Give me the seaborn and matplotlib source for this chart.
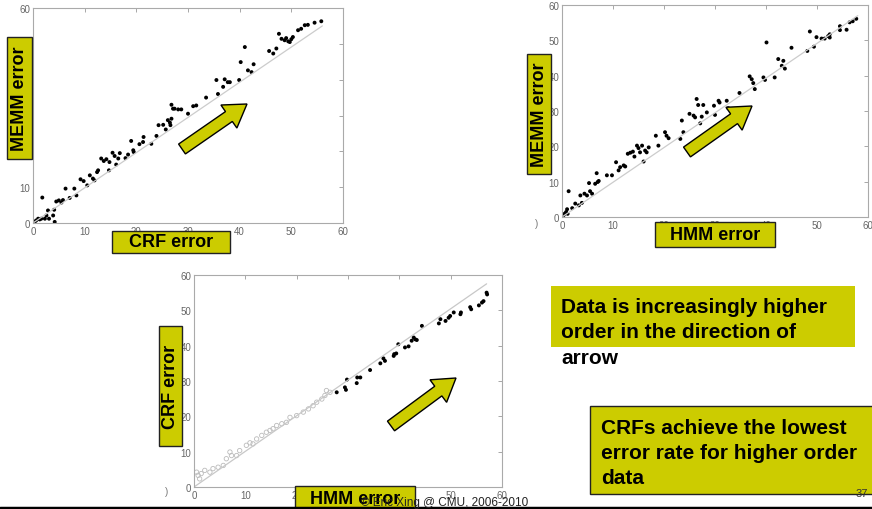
import matplotlib
matplotlib.use("Agg")
import matplotlib.pyplot as plt
import seaborn as sns
import pandas as pd
from matplotlib.patches import Rectangle, FancyArrow

# plot 1: CRF error vs MEMM error
crf_a = [0.3, 0.6, 1.0, 1.3, 1.6, 1.8, 2.3, 2.6, 2.9, 3.1, 3.9, 4.1, 4.2, 4.5, 5.0, 5.5, 5.8,
         6.3, 7.1, 8.0, 8.4, 9.2, 9.8, 10.5, 11.0, 11.6, 11.9, 12.4, 12.6, 13.2, 13.7, 14.2,
         14.8, 14.7, 15.4, 15.8, 16.1, 16.5, 16.8, 17.9, 18.4, 19.0, 19.4, 19.5, 20.6, 21.3,
         21.4, 22.9, 23.9, 24.3, 25.2, 25.7, 26.1, 26.5, 26.6, 26.8, 26.8, 27.1, 27.4, 28.1,
         28.7, 30.0, 31.0, 31.6, 33.5, 35.5, 35.8, 36.8, 37.1, 37.7, 38.1, 39.9, 40.2, 41.0,
         41.6, 42.3, 42.7, 45.7, 46.5, 47.1, 47.6, 48.1, 48.7, 49.0, 49.4, 49.7, 50.0, 50.3,
         51.3, 51.9, 52.6, 53.2, 54.5, 55.8]
memm_a = [0.3, 0.7, 1.2, 1.0, 1.2, 7.1, 1.2, 2.1, 3.5, 1.2, 2.1, 3.7, 0.3, 6.0, 6.3, 5.7, 6.4,
          9.6, 7.0, 9.6, 7.7, 12.2, 11.7, 10.5, 13.3, 12.4, 11.9, 14.2, 14.7, 18.0, 17.3, 17.8,
          17.0, 14.7, 19.6, 18.7, 16.3, 18.0, 19.5, 18.1, 19.1, 22.9, 20.3, 19.8, 22.0, 22.6,
          24.0, 22.1, 24.3, 27.3, 27.4, 26.1, 28.7, 28.0, 27.3, 29.1, 33.0, 31.9, 31.9, 31.7,
          31.7, 30.5, 32.6, 32.8, 35.0, 39.9, 36.0, 38.0, 40.1, 39.3, 39.3, 39.9, 44.9, 49.1,
          42.6, 42.1, 44.3, 48.0, 47.3, 48.7, 52.8, 51.4, 51.0, 51.6, 50.7, 50.5, 51.3, 51.9,
          53.8, 54.2, 55.2, 55.3, 55.9, 56.3]
diag_a_x = [0, 56]
diag_a_y = [0, 55]

# plot 2: HMM error vs MEMM error
hmm_b = [0.3, 0.5, 0.8, 1.0, 1.1, 1.3, 2.0, 2.6, 3.3, 3.6, 3.9, 4.4, 4.9, 5.5, 5.9, 5.3, 6.5,
         7.0, 7.2, 6.8, 8.8, 9.8, 10.6, 11.1, 11.4, 12.1, 12.4, 12.9, 13.4, 13.9, 14.2, 14.7,
         15.0, 15.3, 15.7, 16.0, 16.3, 16.6, 17.0, 18.4, 18.9, 20.2, 20.5, 20.9, 23.2, 23.5,
         23.8, 25.0, 25.8, 26.1, 26.4, 26.7, 27.1, 27.4, 27.7, 28.4, 29.8, 30.0, 30.7, 30.9,
         32.3, 32.6, 34.8, 36.8, 37.2, 37.5, 37.8, 39.5, 39.8, 40.1, 41.7, 42.4, 43.1, 43.4,
         43.7, 45.0, 48.1, 48.6, 49.4, 49.9, 50.9, 51.5, 52.2, 52.5, 52.5, 54.5, 54.5, 55.8,
         56.4, 57.0, 57.7]
memm_b = [0.5, 0.9, 1.4, 2.2, 0.9, 7.3, 2.5, 3.8, 3.3, 6.1, 4.0, 6.6, 6.1, 7.3, 6.6, 9.6, 9.4,
          9.9, 10.2, 12.4, 11.8, 11.8, 15.5, 13.2, 14.1, 14.6, 14.3, 17.9, 18.2, 18.5, 17.1,
          20.2, 19.5, 18.3, 20.2, 15.7, 18.8, 18.3, 19.7, 23.0, 20.2, 24.0, 23.0, 22.3, 22.1,
          27.3, 24.0, 29.2, 28.7, 28.2, 33.4, 31.7, 26.5, 28.4, 31.7, 29.6, 31.5, 28.9, 32.9,
          32.4, 32.9, 30.8, 35.1, 39.8, 39.0, 37.9, 36.2, 39.5, 38.8, 49.4, 39.5, 44.7, 42.8,
          44.2, 42.0, 47.9, 47.0, 52.5, 48.2, 50.9, 50.5, 50.5, 51.2, 51.7, 50.8, 54.0, 52.9,
          53.0, 55.1, 55.4, 56.1]
diag_b_x = [0, 58]
diag_b_y = [0, 57]

# plot 3: HMM error vs CRF error (grey = low order, black = high order)
hmm_c_low = [0.5, 0.8, 1.1, 1.4, 2.1, 3.1, 3.7, 4.7, 5.7, 6.3, 7.0, 7.3, 8.3, 8.9, 10.2, 10.9,
             11.5, 12.2, 13.2, 14.1, 14.8, 15.4, 16.1, 17.1, 18.0, 18.7, 20.0, 21.3, 22.3,
             23.2, 23.9, 24.9, 25.5, 25.8, 26.5]
crf_c_low = [4.2, 3.3, 2.3, 3.8, 4.7, 4.2, 5.2, 5.6, 6.1, 8.0, 9.9, 8.9, 8.9, 10.3, 11.8, 12.5,
             12.2, 13.6, 14.6, 15.5, 16.0, 16.5, 17.4, 17.9, 18.3, 19.7, 20.2, 21.2, 22.1,
             23.0, 24.0, 24.9, 25.9, 27.3, 26.8]
hmm_c_high = [27.8, 29.4, 29.6, 29.8, 31.7, 31.8, 32.4, 34.3, 36.3, 36.9, 37.2, 38.9, 39.0,
              39.4, 39.8, 41.1, 41.8, 42.4, 42.8, 43.1, 43.4, 44.4, 47.7, 48.0, 49.0, 49.6,
              49.9, 50.6, 51.9, 52.0, 53.8, 54.0, 55.5, 56.1, 56.4, 57.0, 57.1]
crf_c_high = [26.8, 28.2, 27.5, 30.4, 29.4, 31.0, 31.0, 33.1, 35.0, 36.4, 35.7, 37.1, 37.6,
              37.8, 40.4, 39.5, 39.8, 41.4, 42.3, 41.8, 41.6, 45.6, 46.3, 47.5, 47.0, 47.9,
              48.4, 49.4, 48.9, 49.4, 50.9, 50.3, 51.4, 52.2, 52.6, 55.0, 54.5]
diag_c_x = [0, 57]
diag_c_y = [0, 57.5]

ticks = [0, 10, 20, 30, 40, 50, 60]
YELLOW = "#cccc00"

sns.set_style("white")
plt.rcParams['font.family'] = ['Liberation Sans', 'DejaVu Sans']

W, H = 872, 510
fig = plt.figure(figsize=(W / 100, H / 100), dpi=100)


def px_axes(left, top, right, bottom):
    return fig.add_axes([left / W, 1 - bottom / H, (right - left) / W, (bottom - top) / H])


def style(ax):
    ax.set_xlim(0, 60)
    ax.set_ylim(0, 60)
    ax.set_xticks(ticks)
    ax.set_yticks(ticks)
    ax.tick_params(direction="in", top=True, right=True, length=3, width=0.6,
                   color="#999999", labelcolor="#666666", labelsize=7, pad=2)
    for s in ax.spines.values():
        s.set_color("#aaaaaa")
        s.set_linewidth(0.8)
    ax.set_xlabel("")
    ax.set_ylabel("")


ax1 = px_axes(33, 9, 343, 224)
sns.lineplot(x=diag_a_x, y=diag_a_y, ax=ax1, color="#cccccc", lw=0.9)
sns.scatterplot(x=crf_a, y=memm_a, ax=ax1, color="black", s=8, edgecolor="none")
style(ax1)

ax2 = px_axes(562, 6, 868, 218)
sns.lineplot(x=diag_b_x, y=diag_b_y, ax=ax2, color="#cccccc", lw=0.9)
sns.scatterplot(x=hmm_b, y=memm_b, ax=ax2, color="black", s=8, edgecolor="none")
style(ax2)

ax3 = px_axes(194, 276, 502, 488)
sns.lineplot(x=diag_c_x, y=diag_c_y, ax=ax3, color="#c8c8c8", lw=0.9)
sns.scatterplot(x=hmm_c_low, y=crf_c_low, ax=ax3, s=10, facecolor="none",
                edgecolor="#bbbbbb", linewidth=0.6)
sns.scatterplot(x=hmm_c_high, y=crf_c_high, ax=ax3, color="black", s=8, edgecolor="none")
style(ax3)

# overlay in pixel coordinates for the slide decorations
ov = fig.add_axes([0, 0, 1, 1], zorder=10)
ov.set_xlim(0, W)
ov.set_ylim(H, 0)
ov.axis("off")
ov.patch.set_alpha(0)


def box(x0, y0, x1, y1, label=None, rot=0, edge=True):
    ov.add_patch(Rectangle((x0, y0), x1 - x0, y1 - y0, facecolor=YELLOW,
                           edgecolor="#222222" if edge else "none", lw=1.0))
    if label:
        ov.text((x0 + x1) / 2, (y0 + y1) / 2, label, rotation=rot, ha="center",
                va="center", fontsize=13, fontweight="bold", color="black")


def arrow(x0, y0, x1, y1):
    ov.add_patch(FancyArrow(x0, y0, x1 - x0, y1 - y0, width=12, head_width=28,
                            head_length=22, length_includes_head=True,
                            facecolor=YELLOW, edgecolor="black", lw=1.0))


box(7, 38, 32, 160, "MEMM error", rot=90)
box(112, 232, 230, 254, "CRF error")
box(527, 55, 551, 175, "MEMM error", rot=90)
box(655, 223, 775, 248, "HMM error")
box(159, 327, 182, 447, "CRF error", rot=90)
box(295, 487, 415, 512, "HMM error")

arrow(182, 150, 247, 105)
arrow(687, 153, 752, 107)
arrow(391, 427, 456, 379)

ov.text(537, 224, ")", fontsize=7, color="#777777", ha="center", va="center")
ov.text(167, 492, ")", fontsize=7, color="#777777", ha="center", va="center")

# text boxes on the right
box(551, 287, 855, 348, edge=False)
for yb, line in zip([313, 338, 364], ["Data is increasingly higher",
                                      "order in the direction of", "arrow"]):
    ov.text(561, yb, line, fontsize=15, fontweight="bold", va="baseline", color="black")

box(590, 407, 874, 495)
for yb, line in zip([434, 459, 484], ["CRFs achieve the lowest",
                                      "error rate for higher order", "data"]):
    ov.text(601, yb, line, fontsize=15, fontweight="bold", va="baseline", color="black")

ov.text(445, 503, "\u00a9 Eric Xing @ CMU, 2006-2010", fontsize=8.5, ha="center",
        va="center", color="#222222")
ov.text(868, 497, "37", fontsize=8, ha="right", va="baseline", color="#333333")
ov.plot([0, W], [508.5, 508.5], color="black", lw=2.5)

fig.savefig("out.png", dpi=100)
